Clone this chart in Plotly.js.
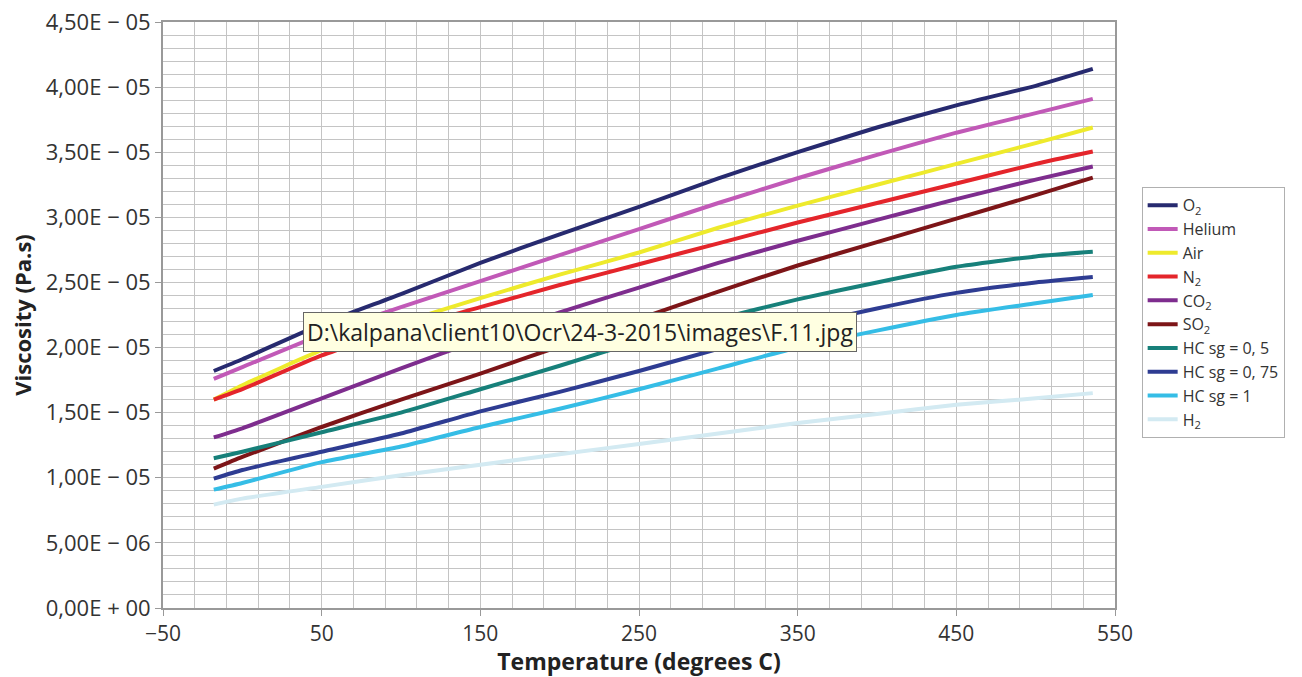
<!DOCTYPE html>
<html>
<head>
<meta charset="utf-8">
<script src="https://cdn.plot.ly/plotly-3.0.1.min.js"></script>
<style>
html,body{margin:0;padding:0;background:#fff;}
#chart{width:1302px;height:677px;}
</style>
</head>
<body>
<div id="chart"></div>
<script>
// Temperature (degrees C)
const temperature = [-18, 0, 50, 100, 150, 200, 250, 300, 350, 400, 450, 500, 536];

// Viscosity (Pa.s) per gas (units of 1e-6)
const o2      = [18.2, 19.1, 21.8, 24.1, 26.5, 28.7, 30.8, 33.0, 35.0, 36.9, 38.6, 40.1, 41.4];
const helium  = [17.6, 18.5, 21.0, 23.1, 25.1, 27.1, 29.1, 31.1, 33.0, 34.8, 36.5, 38.0, 39.1];
const air     = [16.0, 17.1, 19.8, 21.9, 23.8, 25.6, 27.3, 29.2, 30.9, 32.5, 34.1, 35.7, 36.9];
const n2      = [16.0, 16.8, 19.4, 21.4, 23.1, 24.8, 26.4, 28.0, 29.6, 31.1, 32.6, 34.1, 35.05];
const co2     = [13.1, 13.8, 16.1, 18.4, 20.6, 22.7, 24.6, 26.5, 28.2, 29.8, 31.4, 32.9, 33.9];
const so2     = [10.7, 11.6, 13.9, 16.0, 18.0, 20.1, 22.2, 24.3, 26.3, 28.1, 29.9, 31.7, 33.05];
const hc05    = [11.5, 12.0, 13.5, 15.0, 16.8, 18.6, 20.5, 22.2, 23.7, 25.0, 26.2, 27.0, 27.35];
const hc075   = [9.94, 10.6, 12.0, 13.4, 15.1, 16.6, 18.2, 19.9, 21.6, 23.0, 24.2, 25.0, 25.42];
const hc1     = [9.09, 9.6, 11.2, 12.4, 13.9, 15.3, 16.8, 18.4, 20.0, 21.3, 22.5, 23.4, 24.04];
const h2      = [7.94, 8.4, 9.3, 10.2, 11.0, 11.8, 12.6, 13.4, 14.2, 14.9, 15.6, 16.1, 16.5];

const seriesNames = ["O<sub>2</sub>", "Helium", "Air", "N<sub>2</sub>", "CO<sub>2</sub>", "SO<sub>2</sub>",
                     "HC sg = 0, 5", "HC sg = 0, 75", "HC sg = 1", "H<sub>2</sub>"];
const seriesValues = [o2, helium, air, n2, co2, so2, hc05, hc075, hc1, h2];
const seriesColors = ["#272a6f", "#c159b7", "#eeea2c", "#e4252b", "#7e2d8e", "#7d1518",
                      "#17807a", "#2e3c92", "#35bde6", "#d3eaf2"];

const yTickVals = [0, 5e-6, 1e-5, 1.5e-5, 2e-5, 2.5e-5, 3e-5, 3.5e-5, 4e-5, 4.5e-5];
const yTickText = ["0,00E + 00", "5,00E \u2212 06", "1,00E \u2212 05", "1,50E \u2212 05", "2,00E \u2212 05",
                   "2,50E \u2212 05", "3,00E \u2212 05", "3,50E \u2212 05", "4,00E \u2212 05", "4,50E \u2212 05"];
const xTickVals = [-50, 50, 150, 250, 350, 450, 550];
const xTickText = ["\u221250", "50", "150", "250", "350", "450", "550"];

const tooltipText = "D:\\kalpana\\client10\\Ocr\\24-3-2015\\images\\F.11.jpg";

const traces = seriesNames.map((name, i) => ({
  type: "scatter",
  mode: "lines",
  name: name,
  x: temperature,
  y: seriesValues[i].map(v => v * 1e-6),
  line: {color: seriesColors[i], width: 4, shape: "spline", smoothing: 0.5},
  hoverinfo: "skip"
}));

const gridColor = "#c4c4c4";
const fam = "'Open Sans', 'Noto Sans', sans-serif";

const layout = {
  width: 1302, height: 677,
  paper_bgcolor: "#fff", plot_bgcolor: "#fff",
  margin: {l: 163, r: 187, t: 22, b: 69},
  showlegend: true,
  legend: {
    x: 1.028, y: 0.718, xanchor: "left", yanchor: "top",
    bgcolor: "#fff", bordercolor: "#b0b0b0", borderwidth: 1,
    font: {family: fam, size: 16, color: "#333"},
    tracegroupgap: 0, itemwidth: 30
  },
  xaxis: {
    range: [-50, 550],
    tickmode: "array", tickvals: xTickVals, ticktext: xTickText,
    tickfont: {family: fam, size: 21, color: "#333"},
    ticks: "outside", ticklen: 6, tickcolor: "#999",
    showgrid: true, gridcolor: gridColor, gridwidth: 1,
    minor: {dtick: 20, tick0: -50, showgrid: true, gridcolor: gridColor, gridwidth: 1, ticks: ""},
    showline: true, linecolor: "#999", linewidth: 2, mirror: true,
    zeroline: false,
    title: {text: "<b>Temperature (degrees C)</b>", font: {family: fam, size: 23, color: "#222"}, standoff: 3}
  },
  yaxis: {
    range: [0, 4.5e-5],
    tickmode: "array", tickvals: yTickVals, ticktext: yTickText,
    tickfont: {family: fam, size: 22, color: "#333"},
    ticks: "outside", ticklen: 6, tickcolor: "#999",
    showgrid: true, gridcolor: gridColor, gridwidth: 1,
    minor: {dtick: 1e-6, tick0: 0, showgrid: true, gridcolor: gridColor, gridwidth: 1, ticks: ""},
    showline: true, linecolor: "#999", linewidth: 2, mirror: true,
    zeroline: false,
    title: {text: "<b>Viscosity (Pa.s)</b>", font: {family: fam, size: 22, color: "#222"}, standoff: 8}
  },
  annotations: [{
    xref: "paper", yref: "paper", x: 0.147, y: 0.505,
    xanchor: "left", yanchor: "top", showarrow: false,
    text: tooltipText,
    font: {family: fam, size: 23, color: "#222"},
    bgcolor: "#ffffe1", bordercolor: "#666", borderwidth: 1, borderpad: 3
  }]
};

Plotly.newPlot("chart", traces, layout, {displayModeBar: false, staticPlot: true});
</script>
</body>
</html>
